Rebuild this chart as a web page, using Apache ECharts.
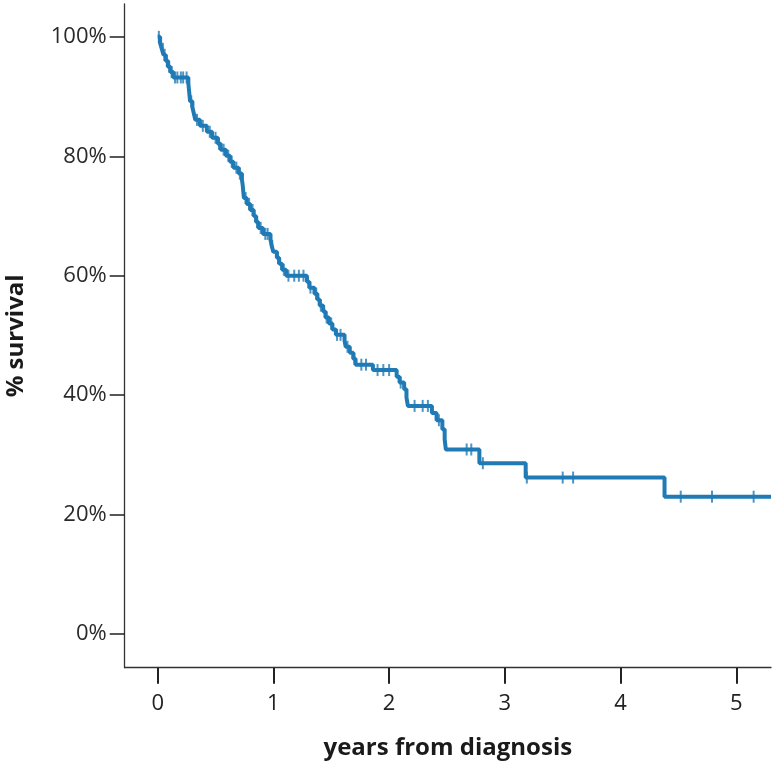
<!DOCTYPE html>
<html>
<head>
<meta charset="utf-8">
<script src="https://cdn.jsdelivr.net/npm/echarts@6/dist/echarts.min.js"></script>
<style>
html,body{margin:0;padding:0;background:#fff;}
#chart{width:774px;height:766px;}
</style>
</head>
<body>
<div id="chart"></div>
<script>
// Kaplan-Meier step points: time (years) and survival (%) after the event
var eventTimes = [0.000,0.020,0.035,0.050,0.068,0.088,0.110,0.135,0.265,0.270,0.275,0.280,0.300,0.312,0.325,0.365,0.425,0.470,0.520,0.545,0.590,0.625,0.655,0.700,0.728,0.735,0.740,0.745,0.770,0.800,0.830,0.850,0.870,0.910,0.975,0.985,1.000,1.030,1.050,1.075,1.110,1.290,1.310,1.355,1.380,1.400,1.430,1.450,1.480,1.510,1.540,1.615,1.625,1.660,1.690,1.710,1.860,2.065,2.090,2.130,2.150,2.162,2.370,2.410,2.460,2.480,2.490,2.780,3.180,4.380,5.300];
var eventSurv  = [100,99.0,98.0,97.0,96.0,95.0,94.1,93.2,92.2,91.2,90.2,89.2,88.2,87.2,86.1,85.1,84.1,83.1,82.1,81.1,80.1,79.1,78.1,77.1,76.1,75.1,74.0,73.0,72.0,71.0,70.0,69.0,68.0,67.0,66.0,65.0,64.0,63.0,62.0,61.0,60.0,59.0,58.0,57.0,56.0,55.0,54.0,53.0,52.0,51.0,50.1,49.1,48.1,47.1,46.1,45.1,44.2,43.1,42.1,41.0,39.6,38.2,37.0,35.8,34.3,32.6,30.9,28.6,26.2,23.0,23.0];

// Censored observations (tick marks)
var censorTimes = [0.01,0.03,0.045,0.06,0.08,0.10,0.12,0.15,0.17,0.20,0.22,0.25,0.29,0.34,0.39,0.45,0.50,0.53,0.57,0.61,0.64,0.68,0.71,0.76,0.79,0.82,0.86,0.89,0.93,0.95,0.99,1.04,1.09,1.13,1.18,1.22,1.26,1.32,1.37,1.41,1.46,1.50,1.55,1.58,1.64,1.70,1.76,1.80,1.90,1.95,2.00,2.10,2.22,2.29,2.335,2.43,2.67,2.71,2.81,3.19,3.50,3.59,4.52,4.79,5.15];
var censorSurv  = [100,99.0,98.0,97.0,96.0,95.0,94.1,93.2,93.2,93.2,93.2,93.2,89.2,86.1,85.1,84.1,83.1,82.1,81.1,80.1,79.1,78.1,77.1,73.0,72.0,71.0,69.0,68.0,67.0,67.0,65.0,63.0,61.0,60.0,60.0,60.0,60.0,58.0,57.0,55.0,53.0,52.0,50.1,50.1,48.1,46.1,45.1,45.1,44.2,44.2,44.2,42.1,38.2,38.2,38.2,35.8,30.9,30.9,28.6,26.2,26.2,26.2,23.0,23.0,23.0];

var xTicks = [0,1,2,3,4,5];
var yTicks = [0,20,40,60,80,100];

var lineData = eventTimes.map(function(t,i){return [t, eventSurv[i]];});
var censorData = censorTimes.map(function(t,i){return [t, censorSurv[i]];});

var FONT = '"Open Sans", sans-serif';
var COLOR = '#1f7ab5';
var chart = echarts.init(document.getElementById('chart'), null, {renderer:'canvas'});
chart.setOption({
  animation: false,
  backgroundColor: '#fff',
  grid: {left: 124.7, right: 3, top: 4, bottom: 98.3, containLabel: false, outerBoundsMode: 'none'},
  xAxis: {
    type: 'value', min: -0.285, max: 5.3,
    name: 'years from diagnosis', nameLocation: 'middle', nameGap: 68,
    nameTextStyle: {fontFamily: FONT, fontWeight: 'bold', fontSize: 24, color: '#1a1a1a'},
    axisLine: {show: true, onZero: false, lineStyle: {color: '#333', width: 1.3}},
    axisTick: {show: true, length: 16, customValues: xTicks, lineStyle: {color: '#222', width: 2}},
    axisLabel: {customValues: xTicks, margin: 25, fontFamily: FONT, fontSize: 22, color: '#222',
      formatter: function(v){return String(v);} },
    splitLine: {show: false}
  },
  yAxis: {
    type: 'value', min: -5.64, max: 105.5,
    name: '% survival', nameLocation: 'middle', nameGap: 97,
    nameTextStyle: {fontFamily: FONT, fontWeight: 'bold', fontSize: 24, color: '#1a1a1a'},
    axisLine: {show: true, onZero: false, lineStyle: {color: '#333', width: 1.3}},
    axisTick: {show: true, length: 15, customValues: yTicks, lineStyle: {color: '#222', width: 1.5}},
    axisLabel: {customValues: yTicks, margin: 18, fontFamily: FONT, fontSize: 22, color: '#2a2a2a',
      formatter: function(v){return v + '%';} },
    splitLine: {show: false}
  },
  series: [
    {type: 'line', step: 'end', data: lineData, symbol: 'none',
     lineStyle: {color: COLOR, width: 4}, z: 2},
    {type: 'scatter', data: censorData, symbol: 'rect', symbolSize: [2, 12],
     itemStyle: {color: COLOR}, z: 3}
  ]
});
</script>
</body>
</html>
